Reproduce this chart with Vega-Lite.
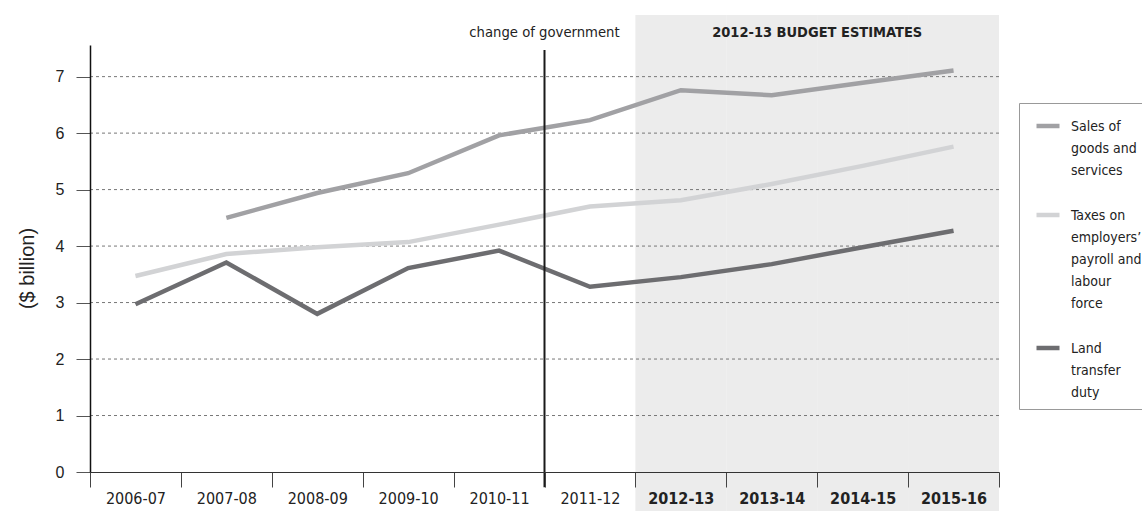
{
  "$schema": "https://vega.github.io/schema/vega-lite/v6.json",
  "width": 909,
  "height": 427,
  "autosize": {"type": "none"},
  "padding": {"left": 90, "top": 45, "right": 143, "bottom": 39},
  "background": "white",
  "config": {"view": {"stroke": null}, "font": "'DejaVu Sans Condensed', Roboto, sans-serif"},
  "datasets": {
    "revenue": [
      {"year": "2007-08", "series": "Sales of goods and services", "value": 4.50},
      {"year": "2008-09", "series": "Sales of goods and services", "value": 4.94},
      {"year": "2009-10", "series": "Sales of goods and services", "value": 5.29},
      {"year": "2010-11", "series": "Sales of goods and services", "value": 5.96},
      {"year": "2011-12", "series": "Sales of goods and services", "value": 6.23},
      {"year": "2012-13", "series": "Sales of goods and services", "value": 6.76},
      {"year": "2013-14", "series": "Sales of goods and services", "value": 6.67},
      {"year": "2014-15", "series": "Sales of goods and services", "value": 6.89},
      {"year": "2015-16", "series": "Sales of goods and services", "value": 7.11},
      {"year": "2006-07", "series": "Taxes on employers' payroll and labour force", "value": 3.47},
      {"year": "2007-08", "series": "Taxes on employers' payroll and labour force", "value": 3.86},
      {"year": "2008-09", "series": "Taxes on employers' payroll and labour force", "value": 3.98},
      {"year": "2009-10", "series": "Taxes on employers' payroll and labour force", "value": 4.07},
      {"year": "2010-11", "series": "Taxes on employers' payroll and labour force", "value": 4.38},
      {"year": "2011-12", "series": "Taxes on employers' payroll and labour force", "value": 4.70},
      {"year": "2012-13", "series": "Taxes on employers' payroll and labour force", "value": 4.81},
      {"year": "2013-14", "series": "Taxes on employers' payroll and labour force", "value": 5.10},
      {"year": "2014-15", "series": "Taxes on employers' payroll and labour force", "value": 5.42},
      {"year": "2015-16", "series": "Taxes on employers' payroll and labour force", "value": 5.76},
      {"year": "2006-07", "series": "Land transfer duty", "value": 2.97},
      {"year": "2007-08", "series": "Land transfer duty", "value": 3.71},
      {"year": "2008-09", "series": "Land transfer duty", "value": 2.80},
      {"year": "2009-10", "series": "Land transfer duty", "value": 3.61},
      {"year": "2010-11", "series": "Land transfer duty", "value": 3.92},
      {"year": "2011-12", "series": "Land transfer duty", "value": 3.28},
      {"year": "2012-13", "series": "Land transfer duty", "value": 3.45},
      {"year": "2013-14", "series": "Land transfer duty", "value": 3.68},
      {"year": "2014-15", "series": "Land transfer duty", "value": 3.98},
      {"year": "2015-16", "series": "Land transfer duty", "value": 4.27}
    ],
    "shade": [{"year": "2012-13"}, {"year": "2013-14"}, {"year": "2014-15"}, {"year": "2015-16"}],
    "grid": [{"v": 1}, {"v": 2}, {"v": 3}, {"v": 4}, {"v": 5}, {"v": 6}, {"v": 7}],
    "gov": [{"year": "2011-12", "label": "change of government"}],
    "budget": [{"year": "2014-15", "label": "2012-13 BUDGET ESTIMATES"}]
  },
  "layer": [
    {
      "data": {"name": "shade"},
      "mark": {"type": "rect", "color": "#ececec"},
      "encoding": {
        "x": {
          "field": "year", "type": "ordinal",
          "scale": {"type": "band", "domain": ["2006-07","2007-08","2008-09","2009-10","2010-11","2011-12","2012-13","2013-14","2014-15","2015-16"], "paddingInner": 0, "paddingOuter": 0},
          "axis": {
            "title": null, "zindex": 1, "labelAngle": 0,
            "domainColor": "#333", "domainWidth": 1,
            "tickColor": "#444", "tickSize": 15, "tickBand": "extent",
            "labelPadding": 3, "labelFontSize": 16, "labelColor": "#222",
            "labelFontWeight": {"condition": {"test": "indexof(['2012-13','2013-14','2014-15','2015-16'], datum.value) >= 0", "value": "bold"}, "value": "normal"}
          }
        },
        "y": {"datum": 8.09, "type": "quantitative", "scale": {"domain": [0, 7.56], "nice": false, "zero": false}},
        "y2": {"datum": -0.7}
      }
    },
    {
      "data": {"name": "grid"},
      "mark": {"type": "rule", "color": "#777", "strokeWidth": 1, "strokeDash": [3, 3]},
      "encoding": {
        "y": {"field": "v", "type": "quantitative", "scale": {"domain": [0, 7.56], "nice": false, "zero": false}}
      }
    },
    {
      "data": {"name": "revenue"},
      "mark": {"type": "line", "strokeWidth": 4.5, "strokeCap": "butt", "strokeJoin": "miter"},
      "encoding": {
        "x": {"field": "year", "type": "ordinal", "bandPosition": 0.5, "scale": {"type": "band"}},
        "y": {
          "field": "value", "type": "quantitative",
          "scale": {"domain": [0, 7.56], "nice": false, "zero": false},
          "axis": {
            "values": [0, 1, 2, 3, 4, 5, 6, 7], "format": "d", "grid": false, "zindex": 1,
            "domainColor": "#111", "domainWidth": 1.5,
            "tickColor": "#555", "tickSize": 14, "tickWidth": 1,
            "labelPadding": 12, "labelFont": "Liberation Sans", "labelFontSize": 16, "labelColor": "#222",
            "title": "($ billion)", "titleFont": "Liberation Sans", "titleFontSize": 20, "titleFontWeight": "normal", "titleColor": "#222",
            "titleAngle": 270, "titleX": -63, "titleY": 223, "titleAlign": "center", "titleBaseline": "middle"
          }
        },
        "stroke": {
          "field": "series", "type": "nominal",
          "scale": {"domain": ["Sales of goods and services", "Taxes on employers' payroll and labour force", "Land transfer duty"], "range": ["#a1a1a4", "#d2d3d5", "#6d6d70"]},
          "legend": {
            "title": null, "orient": "none", "legendX": 929, "legendY": 58, "direction": "vertical",
            "symbolType": "stroke", "symbolSize": 529, "symbolStrokeWidth": 4.5, "symbolOffset": 6,
            "labelFontSize": 14, "labelColor": "#222", "labelLimit": 300, "labelOffset": 9,
            "labelBaseline": "alphabetic",
            "labelExpr": "datum.label == 'Sales of goods and services' ? ['Sales of', 'goods and', 'services'] : datum.label == 'Land transfer duty' ? ['Land', 'transfer', 'duty'] : ['Taxes on', 'employers’', 'payroll and', 'labour', 'force']",
            "padding": 9, "rowPadding": 23, "strokeColor": "#999", "fillColor": "white",
            "encode": {"labels": {"update": {"dy": {"value": 5}, "lineHeight": {"value": 22}}}}
          }
        }
      }
    },
    {
      "data": {"name": "gov"},
      "mark": {"type": "rule", "color": "#1a1a1a", "strokeWidth": 2},
      "encoding": {
        "x": {"field": "year", "type": "ordinal", "bandPosition": 0, "scale": {"type": "band"}},
        "y": {"datum": 7.47, "type": "quantitative"},
        "y2": {"datum": -0.27}
      }
    },
    {
      "data": {"name": "gov"},
      "mark": {"type": "text", "align": "center", "baseline": "middle", "fontSize": 14.7, "color": "#222"},
      "encoding": {
        "x": {"field": "year", "type": "ordinal", "bandPosition": 0, "scale": {"type": "band"}},
        "y": {"datum": 7.77, "type": "quantitative"},
        "text": {"field": "label"}
      }
    },
    {
      "data": {"name": "budget"},
      "mark": {"type": "text", "align": "center", "baseline": "middle", "fontSize": 14.5, "fontWeight": "bold", "color": "#222"},
      "encoding": {
        "x": {"field": "year", "type": "ordinal", "bandPosition": 0, "scale": {"type": "band"}},
        "y": {"datum": 7.77, "type": "quantitative"},
        "text": {"field": "label"}
      }
    }
  ]
}
